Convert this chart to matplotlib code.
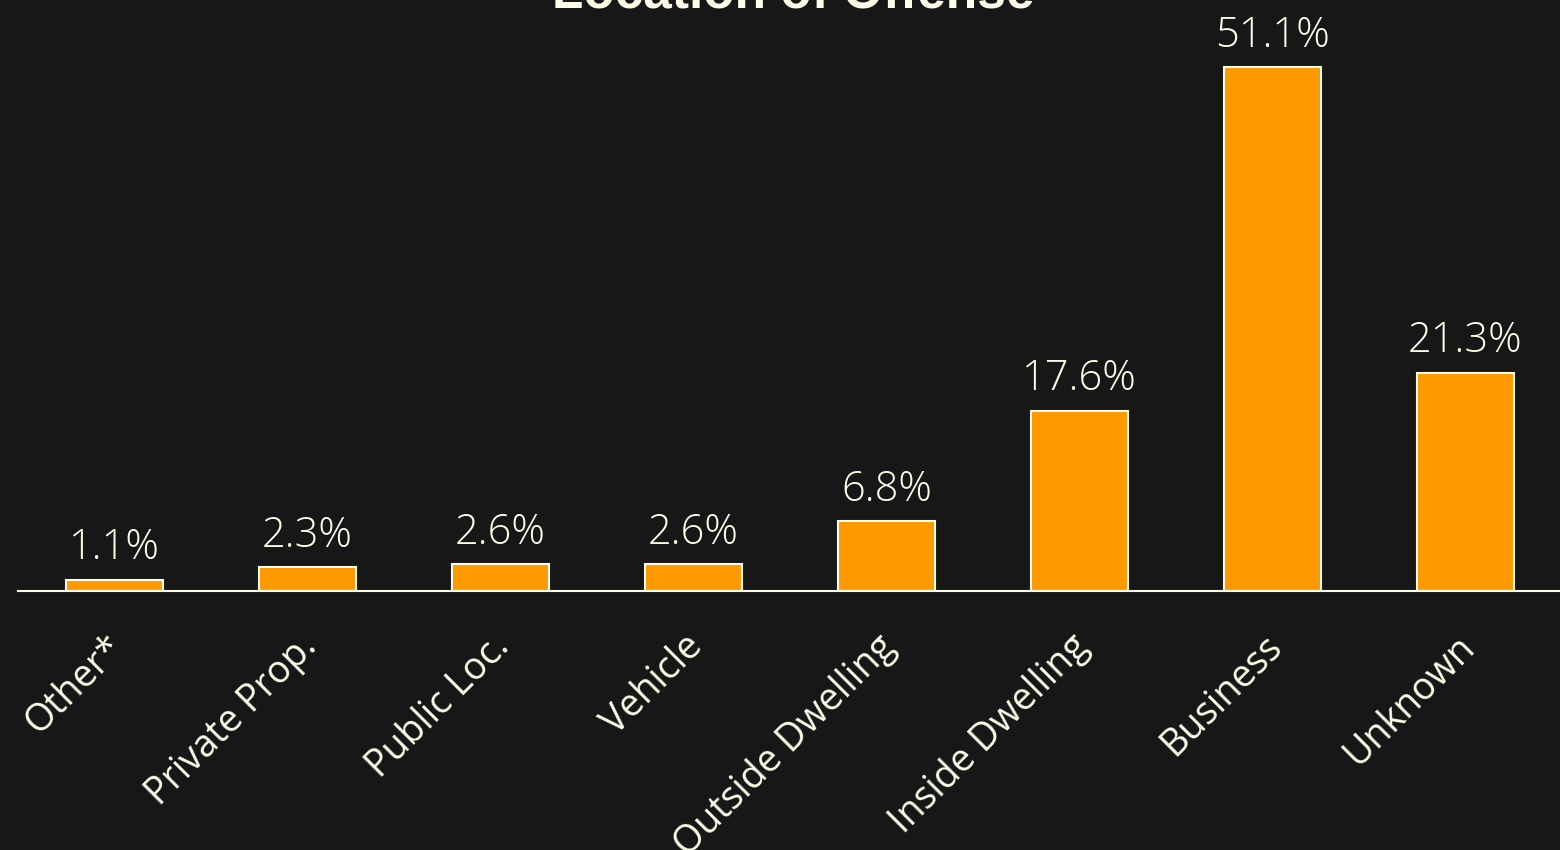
import matplotlib.pyplot as plt
from matplotlib.transforms import ScaledTranslation
import numpy as np

# share of offenses by location
locations = ["Other*", "Private Prop.", "Public Loc.", "Vehicle",
             "Outside Dwelling", "Inside Dwelling", "Business", "Unknown"]
shares = [1.1, 2.3, 2.6, 2.6, 6.8, 17.6, 51.1, 21.3]

bg = "#171717"
ink = "#fdfde8"
bar_color = "#ff9900"

fig = plt.figure(figsize=(15.6, 8.5), dpi=100, facecolor=bg)
ax = fig.add_axes([18 / 1560, 1 - 591 / 850, 1544 / 1560, 574 / 850])
ax.set_facecolor(bg)

x = np.arange(len(locations))
bars = ax.bar(x, shares, width=0.5, color=bar_color, edgecolor=ink, linewidth=1.5)
for rect, v in zip(bars, shares):
    ax.text(rect.get_x() + rect.get_width() / 2, v + 1.0, f"{v}%",
            ha="center", va="bottom", color=ink, fontsize=30,
            family="Open Sans", fontweight=300)

ax.set_xlim(-0.5, 7.5)
ax.set_ylim(0, 56)
ax.set_xticks(x)
ax.set_xticklabels(locations, rotation=45, ha="right", rotation_mode="anchor",
                   color=ink, fontsize=27, family="Open Sans")
ax.tick_params(axis="x", length=0, pad=30)
# nudge the slanted labels a bit left and up
shift = ScaledTranslation(-0.10, 0.05, fig.dpi_scale_trans)
for lab in ax.get_xticklabels():
    lab.set_transform(lab.get_transform() + shift)
ax.set_yticks([])
for side in ["top", "right", "left"]:
    ax.spines[side].set_visible(False)
ax.spines["bottom"].set_color(ink)
ax.spines["bottom"].set_linewidth(1.5)

fig.text(793 / 1560, 1 - 8 / 850, "Location of Offense", ha="center", va="baseline",
         color=ink, fontsize=37, fontweight="bold", family="Liberation Sans")

fig.savefig("out.png", facecolor=bg)
